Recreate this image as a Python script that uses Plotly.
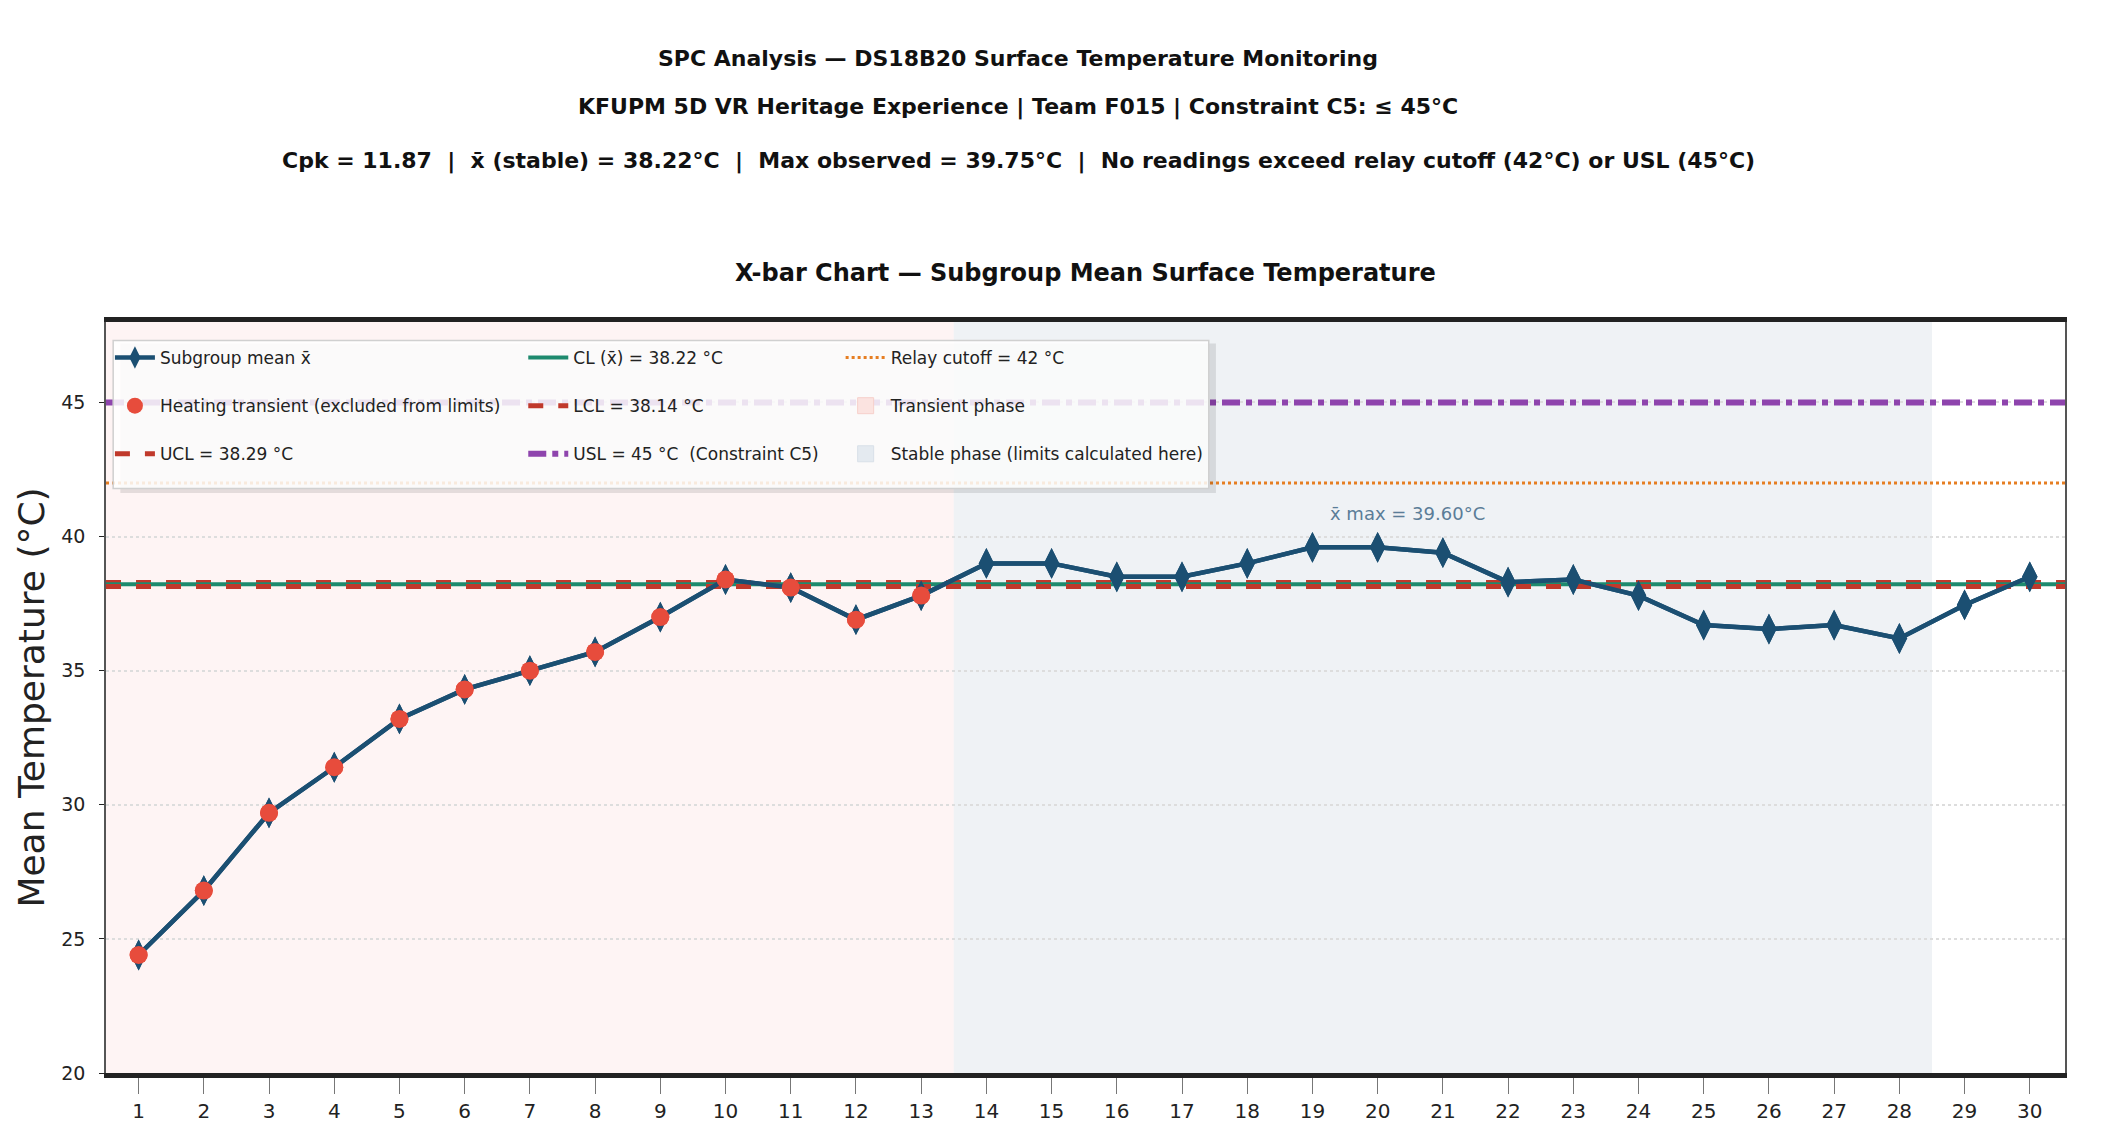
import plotly.graph_objects as go

# ---------------- data ----------------
subgroups = list(range(1, 31))
xbar = [24.4, 26.8, 29.7, 31.4, 33.2, 34.3, 35.0, 35.7, 37.0, 38.4,
        38.1, 36.9, 37.8, 39.0, 39.0, 38.5, 38.5, 39.0, 39.6, 39.6,
        39.4, 38.3, 38.4, 37.8, 36.7, 36.55, 36.7, 36.2, 37.45, 38.5]
n_transient = 13
stable_end = 28
CL = 38.22
UCL = 38.29
LCL = 38.14
RELAY = 42
USL = 45
XMAX_LABEL = "x̄ max = 39.60°C"
y_ticks = [20, 25, 30, 35, 40, 45]

title_lines = [
    "SPC Analysis — DS18B20 Surface Temperature Monitoring",
    "KFUPM 5D VR Heritage Experience | Team F015 | Constraint C5: ≤ 45°C",
    "Cpk = 11.87  |  x̄ (stable) = 38.22°C  |  Max observed = 39.75°C  |  No readings exceed relay cutoff (42°C) or USL (45°C)",
]
subtitle = "X-bar Chart — Subgroup Mean Surface Temperature"

X_RANGE = [0.5, 30.54]
Y_RANGE = [20, 48]

FONT = "DejaVu Sans, sans-serif"

BLUE = "#1b4f72"
RED = "#e74c3c"
LIMIT_RED = "#c0392b"
TEAL = "#1e8a6e"
ORANGE = "#e67e22"
PURPLE = "#8e44ad"
PINK_BG = "rgba(231,76,60,0.06)"
STABLE_BG = "rgba(52,90,130,0.08)"

fig = go.Figure()

# background phases
fig.add_shape(type="rect", xref="x", yref="paper", x0=X_RANGE[0], x1=n_transient + 0.5,
              y0=0, y1=1, fillcolor=PINK_BG, line_width=0, layer="below")
fig.add_shape(type="rect", xref="x", yref="paper", x0=n_transient + 0.5, x1=stable_end + 0.5,
              y0=0, y1=1, fillcolor=STABLE_BG, line_width=0, layer="below")

def hline(y, name, color, dash, width, legend, group):
    fig.add_trace(go.Scatter(x=X_RANGE, y=[y, y], mode="lines", name=name,
                             line=dict(color=color, dash=dash, width=width),
                             legend=legend, legendgroup=group, hoverinfo="skip"))

# column 1
fig.add_trace(go.Scatter(x=subgroups, y=xbar, mode="lines+markers", name="Subgroup mean x̄",
                         line=dict(color=BLUE, width=4.5),
                         marker=dict(symbol="diamond-tall", size=22, color=BLUE),
                         legend="legend", legendgroup="a1"))
fig.add_trace(go.Scatter(x=subgroups[:n_transient], y=xbar[:n_transient], mode="markers",
                         name="Heating transient (excluded from limits)",
                         marker=dict(symbol="circle", size=18, color=RED),
                         legend="legend", legendgroup="a2"))
hline(UCL, "UCL = 38.29 °C", LIMIT_RED, "dash", 5, "legend", "a3")

# column 2
hline(CL, "CL (x̄) = 38.22 °C", TEAL, "solid", 4, "legend2", "b1")
hline(LCL, "LCL = 38.14 °C", LIMIT_RED, "dash", 5, "legend2", "b2")
hline(USL, "USL = 45 °C  (Constraint C5)", PURPLE, "dashdot", 6, "legend2", "b3")

# column 3
hline(RELAY, "Relay cutoff = 42 °C", ORANGE, "dot", 3, "legend3", "c1")
fig.add_trace(go.Scatter(x=[None], y=[None], mode="markers", name="Transient phase",
                         marker=dict(symbol="square", size=22, color="#fbe3e0",
                                     line=dict(color="#f6d0cb", width=1)),
                         legend="legend3", legendgroup="c2"))
fig.add_trace(go.Scatter(x=[None], y=[None], mode="markers", name="Stable phase (limits calculated here)",
                         marker=dict(symbol="square", size=22, color="#e4eaf0",
                                     line=dict(color="#d8e0e8", width=1)),
                         legend="legend3", legendgroup="c3"))

# redraw main series on top of limit lines
fig.add_trace(go.Scatter(x=subgroups, y=xbar, mode="lines+markers", showlegend=False,
                         line=dict(color=BLUE, width=4.5),
                         marker=dict(symbol="diamond-tall", size=22, color=BLUE)))
fig.add_trace(go.Scatter(x=subgroups[:n_transient], y=xbar[:n_transient], mode="markers",
                         showlegend=False, marker=dict(symbol="circle", size=18, color=RED)))

# legend box (shadow + frame)
fig.add_shape(type="rect", xref="x", yref="y", x0=0.72, x1=17.52, y0=41.62, y1=47.2,
              fillcolor="rgba(0,0,0,0.10)", line_width=0, layer="above")
fig.add_shape(type="rect", xref="x", yref="y", x0=0.61, x1=17.41, y0=41.79, y1=47.31,
              fillcolor="rgba(255,255,255,0.85)", line=dict(color="#d0d0d0", width=1.5),
              layer="above")

# max annotation
fig.add_annotation(x=20.45, y=40.85, xref="x", yref="y", text=XMAX_LABEL, showarrow=False,
                   font=dict(family=FONT, size=18, color="#5b7d98"))

# titles (positions relative to plot area: top 314px, bottom 1065px of the figure)
PLOT_TOP, PLOT_BOTTOM, PLOT_LEFT, PLOT_RIGHT = 314, 1065, 98, 2057
title_y = [50, 99, 153]
for line, py in zip(title_lines, title_y):
    fig.add_annotation(x=(1010 - PLOT_LEFT) / (PLOT_RIGHT - PLOT_LEFT),
                       y=(PLOT_BOTTOM - py) / (PLOT_BOTTOM - PLOT_TOP),
                       xref="paper", yref="paper",
                       xanchor="center", yanchor="middle", text="<b>" + line + "</b>",
                       showarrow=False, font=dict(family=FONT, size=22, color="#111111"))
fig.add_annotation(x=0.5, y=(PLOT_BOTTOM - 265) / (PLOT_BOTTOM - PLOT_TOP),
                   xref="paper", yref="paper",
                   xanchor="center", yanchor="middle", text="<b>" + subtitle + "</b>",
                   showarrow=False, font=dict(family=FONT, size=24, color="#111111"))

legend_common = dict(yref="paper", xref="paper", yanchor="top", xanchor="left",
                     bgcolor="rgba(0,0,0,0)", borderwidth=0, traceorder="grouped",
                     tracegroupgap=23, font=dict(family=FONT, size=17, color="#222222"),
                     itemwidth=40)

fig.update_layout(
    width=2111, height=1146,
    margin=dict(l=PLOT_LEFT, r=2111 - PLOT_RIGHT, t=PLOT_TOP, b=1146 - PLOT_BOTTOM),
    paper_bgcolor="white", plot_bgcolor="white",
    font=dict(family=FONT, color="#222222"),
    showlegend=True,
    legend=dict(x=0.002, y=0.976, **legend_common),
    legend2=dict(x=0.213, y=0.976, **legend_common),
    legend3=dict(x=0.375, y=0.976, **legend_common),
    xaxis=dict(range=X_RANGE, tickmode="array", tickvals=subgroups, ticks="outside",
               ticklen=16, tickcolor="#777777", tickwidth=1, showgrid=False,
               showline=True, linecolor="#222222", linewidth=5, mirror=True,
               tickfont=dict(family=FONT, size=20, color="#222222"), zeroline=False),
    yaxis=dict(range=Y_RANGE, tickmode="array", tickvals=y_ticks, ticks="outside",
               ticklen=5, tickcolor="#222222", showgrid=True, gridcolor="#dddddd",
               griddash="dot", gridwidth=1.5, showline=True, linecolor="#555555",
               linewidth=1.5, mirror=True, zeroline=False, ticklabelstandoff=10,
               tickfont=dict(family=FONT, size=19, color="#222222"),
               title=dict(text="Mean Temperature (°C)", standoff=6,
                          font=dict(family=FONT, size=36, color="#222222"))),
)

fig.write_html("out.html")
